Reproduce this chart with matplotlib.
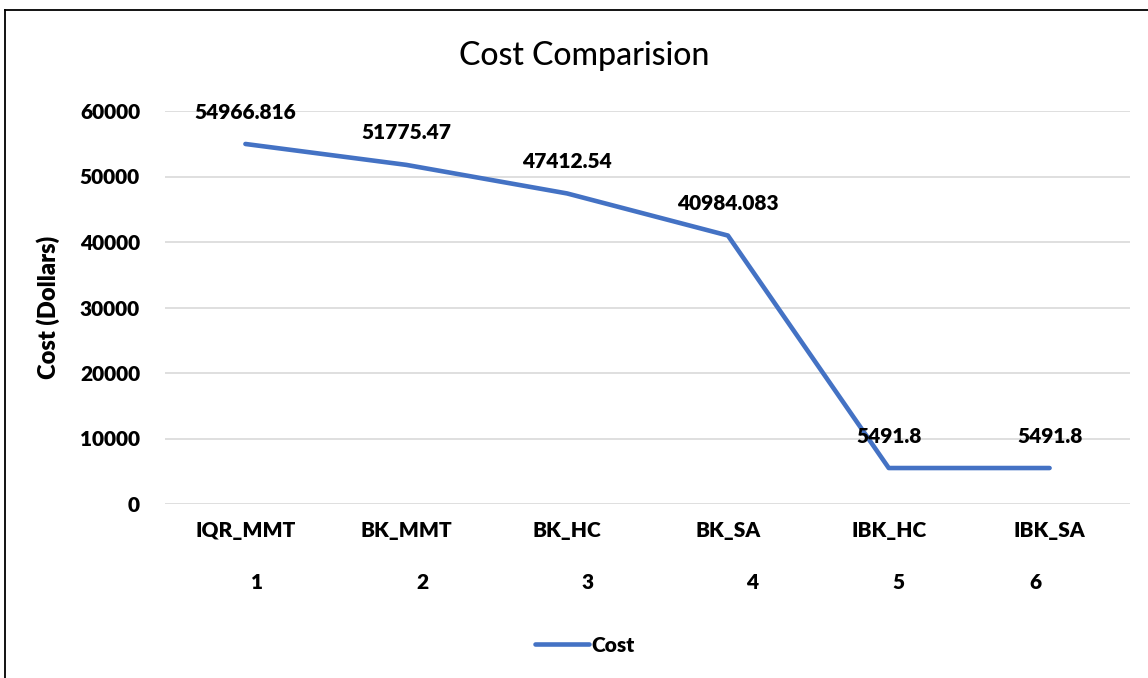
import matplotlib
matplotlib.use("Agg")
import matplotlib.pyplot as plt
from matplotlib.lines import Line2D

plt.rcParams['font.family'] = ['Lato', 'DejaVu Sans']

# data
methods = ['IQR_MMT', 'BK_MMT', 'BK_HC', 'BK_SA', 'IBK_HC', 'IBK_SA']
index_labels = ['1', '2', '3', '4', '5', '6']
cost = [54966.816, 51775.47, 47412.54, 40984.083, 5491.8, 5491.8]
cost_text = ['54966.816', '51775.47', '47412.54', '40984.083', '5491.8', '5491.8']
yticks = [0, 10000, 20000, 30000, 40000, 50000, 60000]

W, H = 1148, 678
FS = 15
BOLD = 'heavy'
fig = plt.figure(figsize=(W / 100, H / 100), dpi=100)
ax = fig.add_axes([165 / W, 1 - 504 / H, (1130 - 165) / W, (504 - 111) / H])

x = list(range(len(methods)))
ax.plot(x, cost, color='#4472C4', lw=3.3, solid_capstyle='round',
        solid_joinstyle='round', zorder=3)

for xi, yi, t in zip(x, cost, cost_text):
    ax.annotate(t, (xi, yi), xytext=(0, 23), textcoords='offset points',
                ha='center', va='center', fontsize=FS, fontweight=BOLD,
                zorder=4)

ax.set_xlim(-0.5, len(methods) - 0.5)
ax.set_ylim(0, 60000)
ax.set_yticks(yticks)
ax.set_yticklabels([str(v) for v in yticks], fontsize=FS, fontweight=BOLD)
ax.set_xticks(x)
ax.set_xticklabels(methods, fontsize=FS, fontweight=BOLD)
ax.tick_params(axis='x', length=0, pad=12)
ax.tick_params(axis='y', length=0, pad=18)
ax.grid(axis='y', color='#D9D9D9', lw=1.2)
ax.set_axisbelow(True)
for s in ax.spines.values():
    s.set_visible(False)

# second-level category numbers
num_x = [0.07, 1.1, 2.13, 3.15, 4.06, 4.91]
for nx, t in zip(num_x, index_labels):
    ax.text(nx, -0.2, t, transform=ax.get_xaxis_transform(), ha='center',
            va='center', fontsize=FS, fontweight=BOLD)

ax.set_ylabel('Cost (Dollars)', fontsize=17, fontweight=BOLD)
ax.yaxis.set_label_coords(-0.109, 0.5)

fig.text(584 / W, 1 - 56 / H, 'Cost Comparision', ha='center', va='center',
         fontsize=23, fontweight='medium')

handle = Line2D([], [], color='#4472C4', lw=3.3, solid_capstyle='round')
fig.legend([handle], ['Cost'], loc='center', bbox_to_anchor=(585 / W, 1 - 645 / H),
           frameon=False, handlelength=2.6, handletextpad=0.1,
           prop={'size': FS, 'weight': BOLD})

# chart border (top and left edges visible)
fig.add_artist(Line2D([5 / W, 1.0], [1 - 10 / H, 1 - 10 / H], color='black',
                      lw=1.3, transform=fig.transFigure))
fig.add_artist(Line2D([5 / W, 5 / W], [1 - 10 / H, 0.0], color='black',
                      lw=1.3, transform=fig.transFigure))

fig.savefig('out.png', dpi=100)
